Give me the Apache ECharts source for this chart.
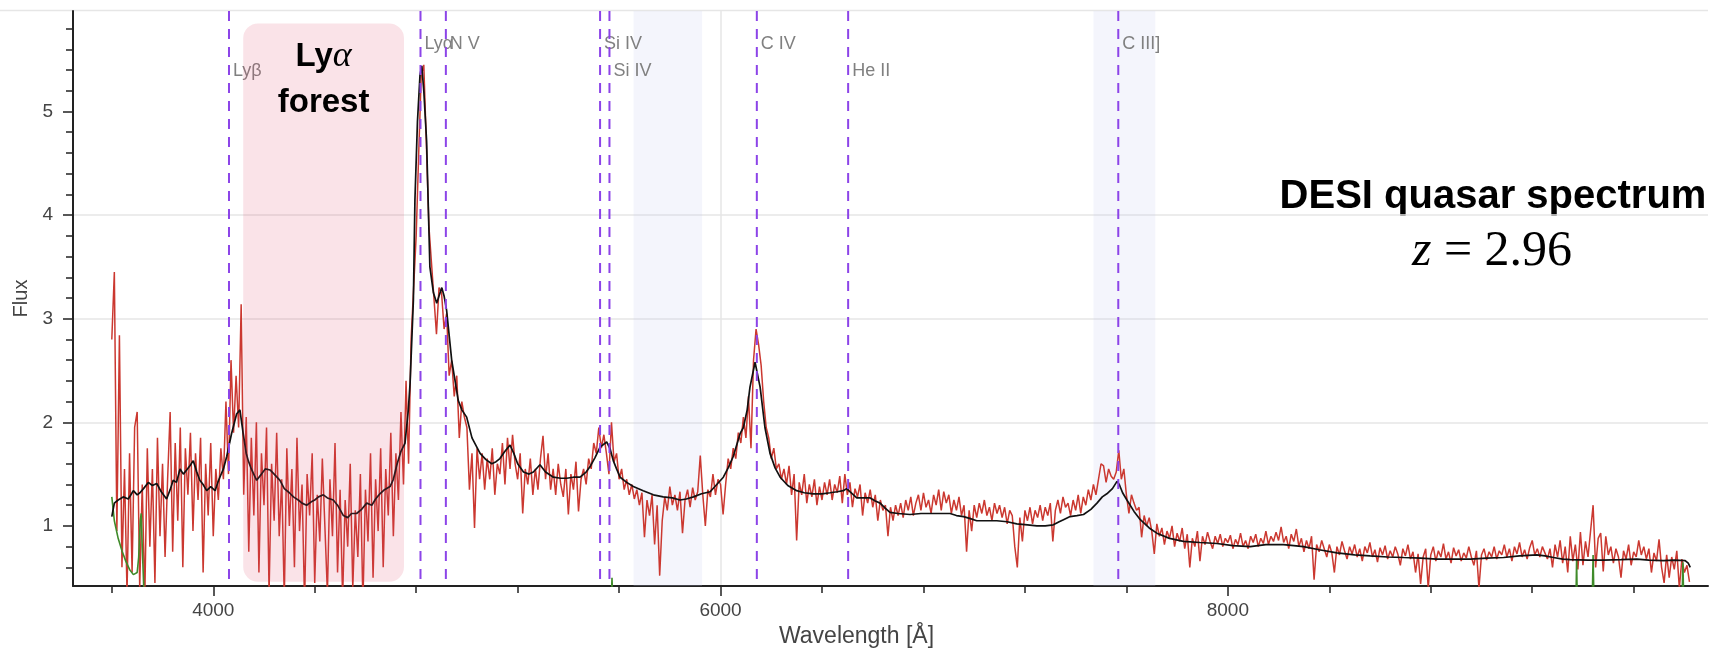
<!DOCTYPE html>
<html>
<head>
<meta charset="utf-8">
<title>DESI quasar spectrum</title>
<script src="https://cdn.jsdelivr.net/npm/echarts@6/dist/echarts.min.js"></script>
<style>
  html, body { margin: 0; padding: 0; background: #fff; }
  #chart { width: 1721px; height: 649px; }
</style>
</head>
<body>
<div id="chart"></div>
<script>
// observed flux, 10 A steps, one array per 1000 A
const redStep = 10;
const redStarts = [3600, 4600, 5600, 6600, 7600, 8600, 9600];
const red3600 = [
  2.80, 3.45, 0.95, 2.84, 0.60, 1.55, 0.35, 1.70, 0.55, 1.95,
  2.10, 0.40, 1.40, 0.30, 1.75, 0.80, 1.55, 0.45, 1.85, 0.90,
  1.60, 0.70, 1.45, 2.10, 0.75, 1.80, 1.05, 1.95, 0.60, 1.75,
  1.30, 1.90, 0.95, 1.70, 1.25, 1.85, 0.55, 1.60, 1.10, 1.80,
  0.90, 1.55, 1.25, 1.75, 1.45, 2.20, 1.50, 2.60, 1.90, 2.45,
  1.95, 3.14, 1.30, 2.05, 0.75, 1.85, 1.10, 2.00, 0.55, 1.70,
  1.20, 1.95, 0.35, 1.60, 1.05, 1.90, 0.90, 1.45, 0.30, 1.75,
  1.00, 1.55, 0.60, 1.85, 0.95, 1.40, 0.25, 1.50, 1.10, 1.70,
  0.45, 1.30, 0.85, 1.65, 1.00, 0.35, 1.45, 0.90, 1.80, 0.55,
  1.35, 0.30, 1.25, 0.80, 1.60, 0.40, 1.15, 0.70, 1.50, 0.25
];
const red4600 = [
  1.35, 0.85, 1.70, 0.50, 1.45, 0.95, 1.75, 0.60, 1.55, 1.10,
  1.90, 0.90, 1.70, 1.25, 2.10, 1.40, 2.40, 1.60, 2.80, 3.30,
  3.80, 4.60, 5.35, 5.45, 4.70, 3.90, 3.55, 3.20, 2.85, 3.30,
  3.25, 2.90, 3.05, 2.45, 2.60, 2.25, 2.45, 1.85, 2.20, 2.05,
  1.95, 1.35, 1.70, 0.98, 1.75, 1.45, 1.70, 1.35, 1.65, 1.45,
  1.75, 1.30, 1.60, 1.50, 1.80, 1.40, 1.85, 1.55, 1.88, 1.60,
  1.45, 1.70, 1.12, 1.55, 1.40, 1.65, 1.30, 1.55, 1.35, 1.65,
  1.87, 1.45, 1.70, 1.35, 1.55, 1.30, 1.60, 1.40, 1.28, 1.55,
  1.11, 1.50, 1.35, 1.62, 1.14, 1.45, 1.55, 1.40, 1.65, 1.55,
  1.80, 1.70, 1.95, 1.75, 1.88, 1.70, 1.50, 2.00, 1.62, 1.70
];
const red5600 = [
  1.45, 1.55, 1.35, 1.45, 1.30, 1.40, 1.26, 1.35, 1.20, 1.32,
  0.89, 1.25, 1.10, 1.30, 0.82, 1.20, 0.52, 1.05, 1.28, 1.15,
  1.38, 1.20, 1.30, 1.15, 1.33, 0.93, 1.25, 1.35, 1.18, 1.37,
  1.25, 1.33, 1.68, 1.30, 1.00, 1.35, 1.28, 1.50, 1.30, 1.45,
  1.40, 1.11, 1.40, 1.65, 1.55, 1.75, 1.65, 1.90, 1.80, 2.05,
  1.85, 2.25, 1.75, 2.60, 2.90, 2.75, 2.55, 2.20, 1.95, 1.85,
  1.65, 1.75, 1.55, 1.60, 1.45, 1.55, 1.40, 1.58, 1.30, 1.50,
  0.86, 1.42, 1.30, 1.50, 1.22, 1.40, 1.28, 1.45, 1.20, 1.38,
  1.25, 1.42, 1.30, 1.45, 1.25, 1.40, 1.32, 1.48, 1.22, 1.50,
  1.30, 1.42, 1.18, 1.36, 1.28, 1.40, 1.10, 1.32, 1.22, 1.35
];
const red6600 = [
  1.18, 1.30, 1.05, 1.25, 1.15, 1.20, 0.90, 1.18, 1.05, 1.20,
  1.10, 1.22, 1.08, 1.25, 1.15, 1.28, 1.10, 1.22, 1.30, 1.15,
  1.32, 1.18, 1.25, 1.12, 1.30, 1.20, 1.35, 1.15, 1.33, 1.22,
  1.30, 1.12, 1.25, 1.15, 1.28, 1.10, 1.20, 0.75, 1.15, 0.95,
  1.20, 1.08, 1.22, 1.12, 1.25, 1.10, 1.18, 1.05, 1.22, 1.12,
  1.20, 1.08, 1.18, 1.02, 1.15, 1.10, 0.80, 0.60, 1.08, 0.85,
  1.15, 1.05, 1.18, 1.02, 1.15, 1.08, 1.20, 1.05, 1.18, 1.10,
  1.22, 0.85, 1.15, 1.25, 1.12, 1.28, 1.18, 1.22, 1.10, 1.25,
  1.15, 1.30, 1.12, 1.28, 1.20, 1.35, 1.25, 1.40, 1.30, 1.45,
  1.60, 1.58, 1.42, 1.55, 1.48, 1.45, 1.52, 1.73, 1.45, 1.55
];
const red7600 = [
  1.30, 1.12, 1.30, 1.22, 1.15, 1.18, 0.89, 1.10, 1.00, 1.08,
  0.95, 0.73, 1.02, 0.90, 0.98, 0.82, 0.95, 0.88, 1.00, 0.80,
  0.93, 0.85, 0.98, 0.78, 0.92, 0.60, 0.88, 0.80, 0.95, 0.66,
  0.90, 0.82, 0.94, 0.85, 0.78, 0.90, 0.83, 0.92, 0.80, 0.88,
  0.84, 0.91, 0.78, 0.87, 0.82, 0.93, 0.80, 0.86, 0.78, 0.90,
  0.84, 0.92, 0.80, 0.88, 0.83, 0.95, 0.82, 0.90, 0.85, 0.94,
  0.86, 0.99, 0.84, 0.90, 0.78, 0.92, 0.85, 0.97, 0.80, 0.88,
  0.75, 0.86, 0.78, 0.90, 0.48, 0.82, 0.75, 0.86, 0.78, 0.70,
  0.82, 0.74, 0.55, 0.80, 0.72, 0.85, 0.76, 0.68, 0.80, 0.73,
  0.82, 0.70, 0.78, 0.66, 0.80, 0.74, 0.84, 0.70, 0.77, 0.65
];
const red8600 = [
  0.79, 0.72, 0.81, 0.68, 0.76, 0.70, 0.80, 0.73, 0.62, 0.78,
  0.71, 0.82, 0.68, 0.75, 0.55, 0.73, 0.44, 0.70, 0.78, 0.40,
  0.72, 0.80, 0.66, 0.76, 0.70, 0.83, 0.68, 0.75, 0.64, 0.79,
  0.71, 0.77, 0.66, 0.74, 0.69, 0.80, 0.70, 0.62, 0.76, 0.40,
  0.72, 0.78, 0.67, 0.75, 0.70, 0.80, 0.68, 0.76, 0.72, 0.82,
  0.70, 0.78, 0.66, 0.80, 0.73, 0.84, 0.70, 0.77, 0.68, 0.79,
  0.86, 0.72, 0.78, 0.70, 0.80, 0.74, 0.68, 0.78, 0.60, 0.82,
  0.70, 0.86, 0.64, 0.80, 0.55, 0.90, 0.66, 0.82, 0.58, 0.94,
  0.62, 0.85, 0.70, 0.95, 1.20, 0.60, 0.88, 0.93, 0.56, 0.90,
  0.72, 0.80, 0.64, 0.78, 0.70, 0.50, 0.76, 0.68, 0.82, 0.62
];
const red9600 = [
  0.75, 0.70, 0.86, 0.72, 0.80, 0.68, 0.78, 0.55, 0.74, 0.66,
  0.87, 0.60, 0.45, 0.72, 0.50, 0.70, 0.58, 0.76, 0.40, 0.68,
  0.55, 0.62, 0.46
];
const redChunks = [red3600, red4600, red5600, red6600, red7600, red8600, red9600];

// smoothed flux [wavelength, flux]
const smoothPoints = [
  [3600, 1.09], [3610, 1.22], [3625, 1.25], [3645, 1.28], [3665, 1.26], [3685, 1.34],
  [3700, 1.30], [3711, 1.32], [3725, 1.36], [3744, 1.42], [3760, 1.39], [3777, 1.41],
  [3795, 1.33], [3816, 1.26], [3830, 1.35], [3842, 1.44], [3855, 1.42], [3869, 1.55],
  [3882, 1.50], [3895, 1.54], [3908, 1.58], [3921, 1.63], [3935, 1.52], [3947, 1.44],
  [3960, 1.40], [3974, 1.34], [3990, 1.38], [4007, 1.34], [4018, 1.42], [4026, 1.47],
  [4040, 1.55], [4053, 1.67], [4072, 1.89], [4092, 2.08], [4105, 2.12], [4118, 1.89],
  [4130, 1.70], [4138, 1.63], [4150, 1.55], [4171, 1.44], [4190, 1.50], [4205, 1.55],
  [4224, 1.54], [4240, 1.50], [4263, 1.44], [4280, 1.36], [4300, 1.32], [4316, 1.28],
  [4335, 1.25], [4350, 1.22], [4368, 1.20], [4385, 1.23], [4400, 1.25], [4415, 1.28],
  [4434, 1.30], [4450, 1.27], [4473, 1.25], [4490, 1.20], [4513, 1.10], [4530, 1.08],
  [4545, 1.12], [4565, 1.12], [4585, 1.16], [4605, 1.22], [4625, 1.20], [4640, 1.26],
  [4657, 1.31], [4675, 1.35], [4697, 1.38], [4710, 1.45], [4725, 1.60], [4740, 1.72],
  [4756, 1.80], [4769, 2.12], [4776, 2.38], [4789, 3.18], [4795, 4.14], [4805, 4.90],
  [4815, 5.35], [4822, 5.44], [4830, 5.20], [4841, 4.72], [4854, 3.50], [4868, 3.25],
  [4881, 3.15], [4890, 3.22], [4901, 3.30], [4910, 3.22], [4920, 3.08], [4940, 2.60],
  [4966, 2.21], [4980, 2.12], [4999, 2.05], [5020, 1.85], [5052, 1.70], [5075, 1.64],
  [5098, 1.60], [5115, 1.62], [5130, 1.65], [5150, 1.72], [5170, 1.78], [5185, 1.70],
  [5200, 1.60], [5223, 1.52], [5245, 1.50], [5262, 1.52], [5288, 1.59], [5310, 1.52],
  [5341, 1.47], [5370, 1.46], [5393, 1.46], [5420, 1.47], [5446, 1.47], [5470, 1.52],
  [5485, 1.57], [5505, 1.66], [5525, 1.76], [5551, 1.81], [5565, 1.74], [5577, 1.63],
  [5590, 1.55], [5604, 1.47], [5630, 1.42], [5656, 1.38], [5695, 1.34], [5735, 1.30],
  [5774, 1.28], [5810, 1.27], [5840, 1.25], [5865, 1.26], [5893, 1.28], [5925, 1.31],
  [5959, 1.33], [5985, 1.40], [6011, 1.47], [6030, 1.56], [6050, 1.67], [6077, 1.89],
  [6090, 1.95], [6105, 2.12], [6116, 2.34], [6136, 2.58], [6156, 2.34], [6175, 1.95],
  [6195, 1.70], [6215, 1.56], [6235, 1.47], [6265, 1.39], [6300, 1.34], [6330, 1.32],
  [6366, 1.31], [6400, 1.31], [6432, 1.32], [6460, 1.33], [6484, 1.34], [6497, 1.36],
  [6510, 1.33], [6537, 1.27], [6560, 1.27], [6590, 1.27], [6610, 1.24], [6629, 1.22],
  [6650, 1.17], [6668, 1.13], [6700, 1.12], [6747, 1.11], [6790, 1.12], [6826, 1.12],
  [6870, 1.12], [6905, 1.12], [6930, 1.10], [6958, 1.09], [6985, 1.07], [7010, 1.05],
  [7050, 1.05], [7089, 1.05], [7130, 1.04], [7168, 1.02], [7210, 1.01], [7247, 1.00],
  [7280, 1.00], [7312, 1.01], [7335, 1.04], [7352, 1.06], [7378, 1.09], [7405, 1.10],
  [7431, 1.11], [7460, 1.16], [7484, 1.22], [7505, 1.28], [7523, 1.31], [7545, 1.36],
  [7563, 1.43], [7572, 1.40], [7585, 1.32], [7602, 1.25], [7630, 1.14], [7655, 1.06],
  [7690, 0.98], [7720, 0.93], [7770, 0.88], [7825, 0.85], [7890, 0.84], [7957, 0.83],
  [8020, 0.81], [8088, 0.80], [8150, 0.82], [8219, 0.82], [8260, 0.81], [8298, 0.80],
  [8360, 0.77], [8430, 0.74], [8500, 0.72], [8561, 0.71], [8630, 0.70], [8693, 0.695],
  [8760, 0.69], [8824, 0.68], [8890, 0.68], [8956, 0.68], [9020, 0.69], [9087, 0.695],
  [9150, 0.71], [9218, 0.72], [9250, 0.71], [9284, 0.695], [9320, 0.68], [9350, 0.675],
  [9420, 0.67], [9481, 0.67], [9550, 0.675], [9612, 0.68], [9660, 0.67], [9717, 0.665],
  [9760, 0.67], [9803, 0.665], [9815, 0.64], [9823, 0.60]
];

// green trace, mostly below the visible range
const greenPoints = [
  [3600, 1.28], [3610, 1.05], [3625, 0.88], [3640, 0.76], [3655, 0.66], [3670, 0.58],
  [3685, 0.53], [3692, 0.52], [3700, 0.55], [3706, 0.70], [3712, 1.05], [3716, 1.12],
  [3720, 0.80], [3726, 0.40], [3735, 0.20], [5568, 0.20], [5572, 0.50], [5576, 0.20],
  [9372, 0.20], [9375, 0.68], [9378, 0.20], [9436, 0.20], [9440, 0.72], [9444, 0.20],
  [9790, 0.20], [9794, 0.65], [9798, 0.20], [9824, 0.20]
];

// emission lines
const lineNames = ['Lyβ', 'Lyα', 'N V', 'Si IV', 'Si IV', 'C IV', 'He II', 'C III]'];
const lineWaves = [4062, 4817, 4917, 5525, 5562, 6143, 6503, 7568];
const lineLevels = [1, 0, 0, 0, 1, 0, 1, 0];

// masked bands and the Lya forest box
const maskBands = [[5657, 5927], [7470, 7714]];
const forestBox = [4118, 4752, 5.85, 0.46];

const xMajor = [4000, 6000, 8000];
const xMinor = [3600, 4400, 4800, 5200, 5600, 6400, 6800, 7200, 7600, 8400, 8800, 9200, 9600];
const yMajor = [1, 2, 3, 4, 5];
const yMinor = [0.6, 0.8, 1.2, 1.4, 1.6, 1.8, 2.2, 2.4, 2.6, 2.8, 3.2, 3.4, 3.6, 3.8,
  4.2, 4.4, 4.6, 4.8, 5.2, 5.4, 5.6, 5.8];

const redData = [];
redChunks.forEach(function (chunk, k) {
  chunk.forEach(function (f, i) {
    redData.push([redStarts[k] + i * redStep, f]);
  });
});

const sans = '"Liberation Sans", Arial, Helvetica, sans-serif';
const serif = '"Liberation Serif", "Times New Roman", serif';
const xRange = [3447, 9893];
const yRange = [0.42, 5.97];

const chart = echarts.init(document.getElementById('chart'));

const option = {
  animation: false,
  backgroundColor: '#fff',
  grid: { left: 73, right: 13, top: 11, bottom: 63, outerBoundsMode: 'none' },
  xAxis: [
    {
      type: 'value', min: xRange[0], max: xRange[1], splitNumber: 3,
      name: 'Wavelength [Å]', nameLocation: 'middle', nameGap: 36,
      nameTextStyle: { fontFamily: sans, fontSize: 23, color: '#444', padding: [0, 68, 0, 0] },
      axisLine: { lineStyle: { color: '#222', width: 2 } },
      axisTick: { customValues: xMajor, length: 10, lineStyle: { color: '#222', width: 1.5 } },
      axisLabel: {
        customValues: xMajor, margin: 15, fontFamily: sans, fontSize: 19, color: '#444',
        formatter: function (v) { return String(v); }
      },
      splitLine: { show: true, showMinLine: false, showMaxLine: false, lineStyle: { color: '#e6e6e6', width: 1.5 } }
    },
    {
      type: 'value', min: xRange[0], max: xRange[1], position: 'bottom',
      axisLine: { show: false },
      axisTick: { customValues: xMinor, length: 7, lineStyle: { color: '#222', width: 1.5 } },
      axisLabel: { show: false },
      splitLine: { show: false }
    }
  ],
  yAxis: [
    {
      type: 'value', min: yRange[0], max: yRange[1],
      name: 'Flux', nameLocation: 'middle', nameGap: 38,
      nameTextStyle: { fontFamily: sans, fontSize: 20, color: '#444' },
      axisLine: { lineStyle: { color: '#222', width: 2 } },
      axisTick: { customValues: yMajor, length: 10, lineStyle: { color: '#222', width: 1.5 } },
      axisLabel: { customValues: yMajor, margin: 20, fontFamily: sans, fontSize: 19, color: '#444' },
      splitLine: { show: true, showMinLine: false, showMaxLine: false, lineStyle: { color: '#e6e6e6', width: 1.5 } }
    },
    {
      type: 'value', min: yRange[0], max: yRange[1], position: 'left',
      axisLine: { show: false },
      axisTick: { customValues: yMinor, length: 7, lineStyle: { color: '#222', width: 1.5 } },
      axisLabel: { show: false },
      splitLine: { show: false }
    }
  ],
  series: [
    {
      type: 'custom', name: 'masks', z: 1, silent: true,
      data: maskBands,
      renderItem: function (params, api) {
        const cs = params.coordSys;
        const x1 = api.coord([api.value(0), 1])[0];
        const x2 = api.coord([api.value(1), 1])[0];
        return {
          type: 'rect',
          shape: { x: x1, y: cs.y, width: x2 - x1, height: cs.height },
          style: { fill: 'rgba(200,205,240,0.2)' }
        };
      }
    },
    {
      type: 'line', name: 'flux', z: 2, showSymbol: false, clip: true,
      data: redData,
      lineStyle: { color: '#cb3830', width: 1.5 }
    },
    {
      type: 'line', name: 'noise', z: 2, showSymbol: false, clip: true,
      data: greenPoints,
      lineStyle: { color: '#3f8b2a', width: 1.6 }
    },
    {
      type: 'line', name: 'smooth', z: 2, showSymbol: false, clip: true,
      data: smoothPoints,
      lineStyle: { color: '#111', width: 1.7 }
    },
    {
      type: 'custom', name: 'lines', z: 3, silent: true,
      data: lineWaves.map(function (w, i) { return [w, lineLevels[i]]; }),
      renderItem: function (params, api) {
        const cs = params.coordSys;
        const x = api.coord([api.value(0), 1])[0];
        const level = api.value(1);
        return {
          type: 'group',
          children: [
            {
              type: 'line',
              shape: { x1: x, y1: cs.y, x2: x, y2: cs.y + cs.height },
              style: { stroke: '#8c44e8', lineWidth: 2, lineDash: [10, 8] }
            },
            {
              type: 'text', x: x + 4, y: cs.y + 33 + 27 * level,
              style: {
                text: lineNames[params.dataIndex], fill: '#808080',
                fontSize: 18, fontFamily: sans, verticalAlign: 'middle', align: 'left'
              }
            }
          ]
        };
      }
    },
    {
      type: 'custom', name: 'forest', z: 4, silent: true,
      data: [forestBox],
      renderItem: function (params, api) {
        const p1 = api.coord([api.value(0), api.value(2)]);
        const p2 = api.coord([api.value(1), api.value(3)]);
        const cx = (p1[0] + p2[0]) / 2;
        return {
          type: 'group',
          children: [
            {
              type: 'rect',
              shape: { x: p1[0], y: p1[1], width: p2[0] - p1[0], height: p2[1] - p1[1], r: 15 },
              style: { fill: 'rgba(220,70,100,0.15)' }
            },
            {
              type: 'text', x: cx, y: p1[1] + 33,
              style: {
                text: '{a|Ly}{b|α}', align: 'center', verticalAlign: 'middle',
                rich: {
                  a: { fontSize: 33, fontWeight: 'bold', fontFamily: sans, fill: '#000' },
                  b: { fontSize: 36, fontStyle: 'italic', fontFamily: serif, fill: '#000' }
                }
              }
            },
            {
              type: 'text', x: cx, y: p1[1] + 79,
              style: {
                text: 'forest', align: 'center', verticalAlign: 'middle',
                fontSize: 33, fontWeight: 'bold', fontFamily: sans, fill: '#000'
              }
            }
          ]
        };
      }
    }
  ],
  graphic: [
    {
      type: 'line', z: 0, silent: true,
      shape: { x1: 0, y1: 10.5, x2: 1708, y2: 10.5 },
      style: { stroke: '#e6e6e6', lineWidth: 1.5 }
    },
    {
      type: 'group', z: 100, silent: true,
      children: [
        { type: 'rect', shape: { x: 1268, y: 163, width: 447, height: 120 }, style: { fill: '#fff' } },
        {
          type: 'text', x: 1493, y: 197,
          style: {
            text: 'DESI quasar spectrum', align: 'center', verticalAlign: 'middle',
            fontSize: 40, fontWeight: 'bold', fontFamily: sans, fill: '#000'
          }
        },
        {
          type: 'text', x: 1492, y: 252,
          style: {
            text: '{z|z}{r| = 2.96}', align: 'center', verticalAlign: 'middle',
            rich: {
              z: { fontSize: 50, fontStyle: 'italic', fontFamily: serif, fill: '#000' },
              r: { fontSize: 50, fontFamily: serif, fill: '#000' }
            }
          }
        }
      ]
    }
  ]
};

chart.setOption(option);
</script>
</body>
</html>
